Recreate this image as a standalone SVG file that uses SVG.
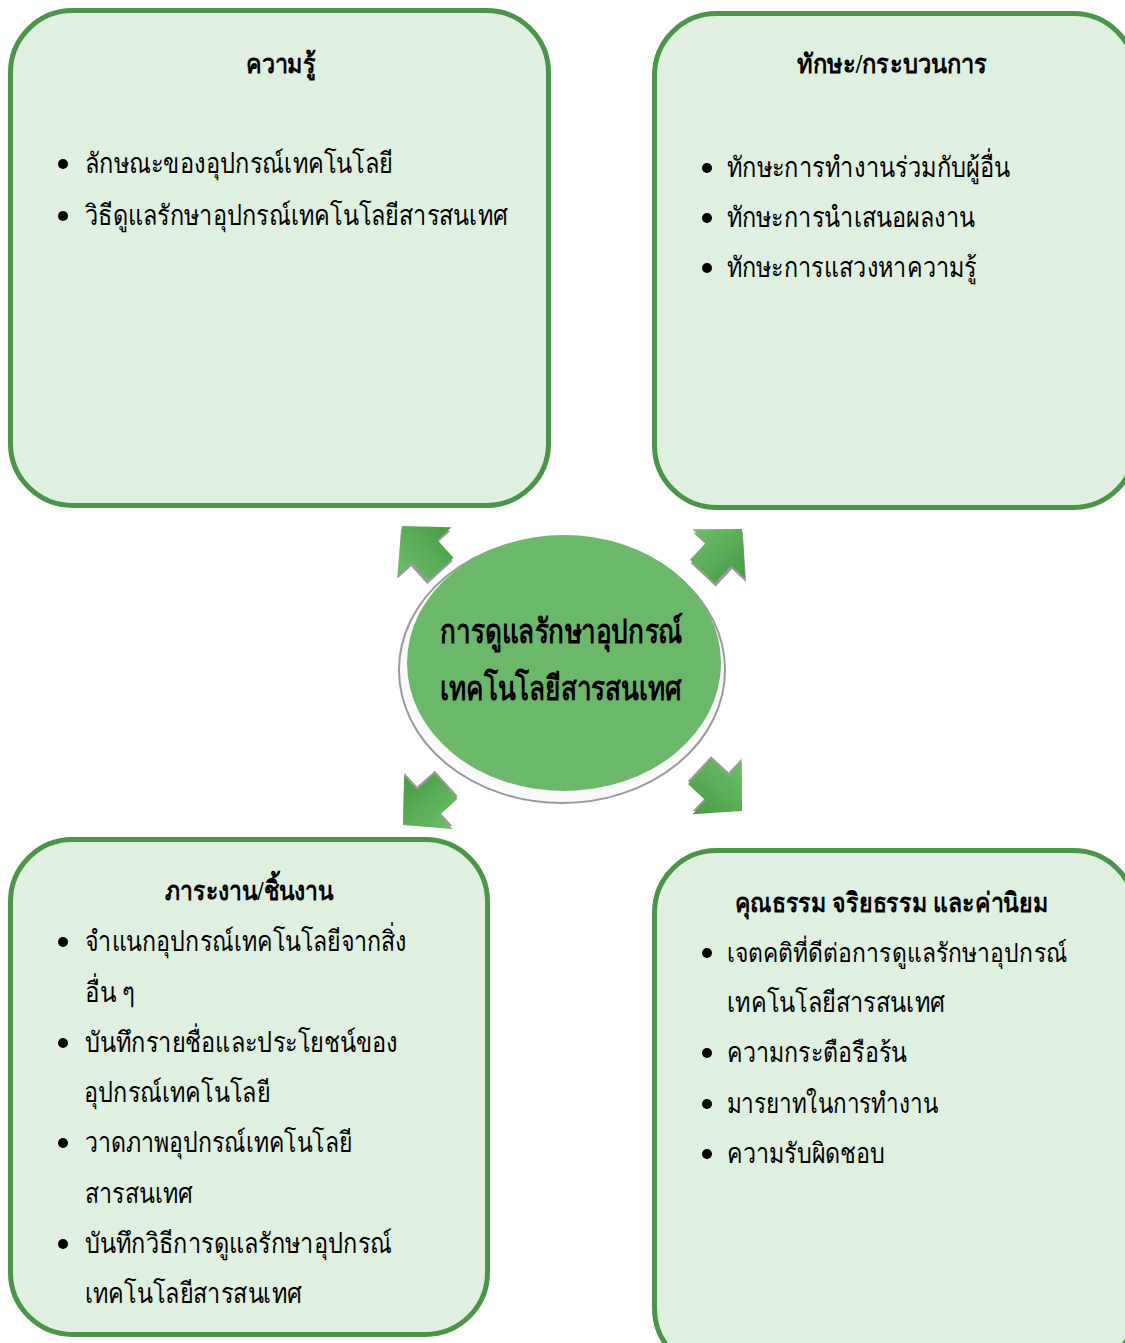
<svg xmlns="http://www.w3.org/2000/svg" width="1125" height="1343" viewBox="0 0 1125 1343">
<style>
.box{fill:#e0f0e0;stroke:#4b9548;stroke-width:5}
.t{font-family:"Liberation Serif",serif;font-size:28px;fill:#000}
.h{font-family:"Liberation Serif",serif;font-size:27px;font-weight:bold;fill:#000}
.c{font-family:"Liberation Serif",serif;font-size:34px;font-weight:bold;fill:#000}
.b{fill:#000}
.arr{fill:url(#ag)}
.ash{fill:#9a9a9a}
</style>
<defs>
<linearGradient id="ag" x1="0" y1="0" x2="0" y2="1">
<stop offset="0" stop-color="#6cc068"/>
<stop offset="1" stop-color="#4a9a46"/>
</linearGradient>
<path id="arrow" d="M0,0 L-34,-36 L-34,-17 L-58,-17 L-58,17 L-34,17 L-34,36 Z"/>
</defs>
<rect width="1125" height="1343" fill="#fff"/>
<g id="connectors">
<g transform="translate(402,526) rotate(-132)"><use href="#arrow" class="ash" transform="translate(-2,-3)"/><use href="#arrow" class="arr"/></g>
<g transform="translate(742,529) rotate(-47)"><use href="#arrow" class="ash" transform="translate(-2,3)"/><use href="#arrow" class="arr"/></g>
<g transform="translate(403,825) rotate(138)"><use href="#arrow" class="ash" transform="translate(-2,2)"/><use href="#arrow" class="arr"/></g>
<g transform="translate(742,811) rotate(43)"><use href="#arrow" class="ash" transform="translate(-2,-2)"/><use href="#arrow" class="arr"/></g>
</g>
<g id="center">
<ellipse cx="562" cy="670" rx="163" ry="133" fill="#fafafa" stroke="#9a9a9a" stroke-width="2"/>
<ellipse cx="564" cy="663" rx="157" ry="128" fill="#6cb86b"/>
<text class="c" x="440" y="643" textLength="243" lengthAdjust="spacingAndGlyphs">การดูแลรักษาอุปกรณ์</text>
<text class="c" x="440" y="700" textLength="242" lengthAdjust="spacingAndGlyphs">เทคโนโลยีสารสนเทศ</text>
</g>
<g id="knowledge">
<rect class="box" x="10.5" y="10.5" width="538" height="495" rx="62"/>
<text class="h" x="246" y="73" textLength="70" lengthAdjust="spacingAndGlyphs">ความรู้</text>
<circle class="b" cx="63" cy="164" r="5"/>
<text class="t" x="85" y="173" textLength="308" lengthAdjust="spacingAndGlyphs">ลักษณะของอุปกรณ์เทคโนโลยี</text>
<circle class="b" cx="63" cy="216" r="5"/>
<text class="t" x="85" y="225" textLength="423" lengthAdjust="spacingAndGlyphs">วิธีดูแลรักษาอุปกรณ์เทคโนโลยีสารสนเทศ</text>
</g>
<g id="skills">
<rect class="box" x="654.5" y="13.5" width="481" height="494" rx="62"/>
<text class="h" x="797" y="73" textLength="190" lengthAdjust="spacingAndGlyphs">ทักษะ/กระบวนการ</text>
<circle class="b" cx="707" cy="168" r="5"/>
<text class="t" x="727" y="177" textLength="283" lengthAdjust="spacingAndGlyphs">ทักษะการทำงานร่วมกับผู้อื่น</text>
<circle class="b" cx="707" cy="218" r="5"/>
<text class="t" x="727" y="227" textLength="248" lengthAdjust="spacingAndGlyphs">ทักษะการนำเสนอผลงาน</text>
<circle class="b" cx="707" cy="268" r="5"/>
<text class="t" x="727" y="277" textLength="250" lengthAdjust="spacingAndGlyphs">ทักษะการแสวงหาความรู้</text>
</g>
<g id="tasks">
<rect class="box" x="10.5" y="839.5" width="477" height="495" rx="62"/>
<text class="h" x="165" y="900" textLength="168" lengthAdjust="spacingAndGlyphs">ภาระงาน/ชิ้นงาน</text>
<circle class="b" cx="63" cy="942" r="5"/>
<text class="t" x="85" y="951" textLength="322" lengthAdjust="spacingAndGlyphs">จำแนกอุปกรณ์เทคโนโลยีจากสิ่ง</text>
<text class="t" x="85" y="1002" textLength="50" lengthAdjust="spacingAndGlyphs">อื่น ๆ</text>
<circle class="b" cx="63" cy="1043" r="5"/>
<text class="t" x="85" y="1052" textLength="313" lengthAdjust="spacingAndGlyphs">บันทึกรายชื่อและประโยชน์ของ</text>
<text class="t" x="84" y="1102" textLength="186" lengthAdjust="spacingAndGlyphs">อุปกรณ์เทคโนโลยี</text>
<circle class="b" cx="63" cy="1143" r="5"/>
<text class="t" x="85" y="1152" textLength="267" lengthAdjust="spacingAndGlyphs">วาดภาพอุปกรณ์เทคโนโลยี</text>
<text class="t" x="85" y="1203" textLength="108" lengthAdjust="spacingAndGlyphs">สารสนเทศ</text>
<circle class="b" cx="63" cy="1244" r="5"/>
<text class="t" x="85" y="1253" textLength="307" lengthAdjust="spacingAndGlyphs">บันทึกวิธีการดูแลรักษาอุปกรณ์</text>
<text class="t" x="85" y="1303" textLength="217" lengthAdjust="spacingAndGlyphs">เทคโนโลยีสารสนเทศ</text>
</g>
<g id="values">
<rect class="box" x="654.5" y="850.5" width="481" height="520" rx="62"/>
<text class="h" x="735" y="912" textLength="313" lengthAdjust="spacingAndGlyphs">คุณธรรม จริยธรรม และค่านิยม</text>
<circle class="b" cx="707" cy="953" r="5"/>
<text class="t" x="727" y="962" style="font-size:26px" textLength="340" lengthAdjust="spacingAndGlyphs">เจตคติที่ดีต่อการดูแลรักษาอุปกรณ์</text>
<text class="t" x="727" y="1012" textLength="218" lengthAdjust="spacingAndGlyphs">เทคโนโลยีสารสนเทศ</text>
<circle class="b" cx="707" cy="1053" r="5"/>
<text class="t" x="727" y="1062" textLength="180" lengthAdjust="spacingAndGlyphs">ความกระตือรือร้น</text>
<circle class="b" cx="707" cy="1104" r="5"/>
<text class="t" x="727" y="1113" textLength="211" lengthAdjust="spacingAndGlyphs">มารยาทในการทำงาน</text>
<circle class="b" cx="707" cy="1154" r="5"/>
<text class="t" x="727" y="1163" textLength="158" lengthAdjust="spacingAndGlyphs">ความรับผิดชอบ</text>
</g>
</svg>
